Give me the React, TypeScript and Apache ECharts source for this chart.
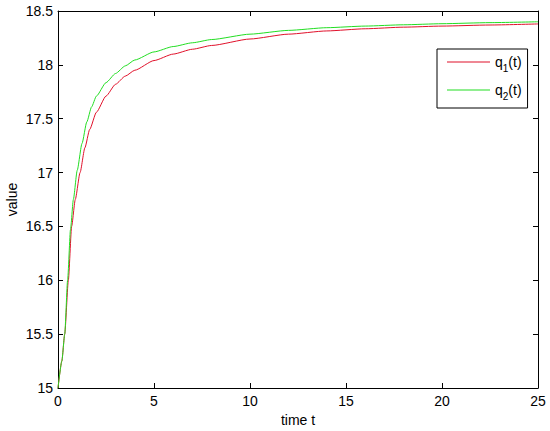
import React, { useEffect, useRef } from "react";
import * as echarts from "echarts";

// q1(t) (red)
const q1Time = [0, 0.2, 0.35, 0.54, 0.71, 0.9, 1.15, 1.4, 1.65, 2.0, 2.5, 3.0, 3.5, 4.0, 5.0, 6.0, 7.0, 8.0, 10.0, 12.0, 14.0, 16.0, 18.0, 20.0, 22.5, 25];
const q1Values = [15.0, 15.25, 15.5, 16.0, 16.5, 16.75, 17.0, 17.23, 17.4, 17.56, 17.71, 17.82, 17.895, 17.95, 18.04, 18.1, 18.145, 18.18, 18.24, 18.285, 18.315, 18.335, 18.35, 18.36, 18.37, 18.38];

// q2(t) (green)
const q2Time = [0, 0.2, 0.35, 0.5, 0.65, 0.8, 1.0, 1.25, 1.5, 1.75, 2.0, 2.5, 3.0, 3.5, 4.0, 5.0, 6.0, 7.0, 8.0, 10.0, 12.0, 14.0, 16.0, 18.0, 20.0, 22.5, 25];
const q2Values = [15.0, 15.25, 15.5, 16.0, 16.47, 16.75, 17.02, 17.27, 17.47, 17.61, 17.71, 17.835, 17.92, 17.99, 18.045, 18.12, 18.17, 18.205, 18.235, 18.285, 18.32, 18.345, 18.36, 18.372, 18.382, 18.392, 18.4];

const seriesNames = ["q1(t)", "q2(t)"];
const xTicks = { min: 0, max: 25, interval: 5 };
const yTicks = { min: 15, max: 18.5, interval: 0.5 };

const FONT = "'Liberation Sans', Arial, sans-serif";

export default function App() {
  const ref = useRef<HTMLDivElement>(null);
  useEffect(() => {
    document.body.style.margin = "0";
    if (!ref.current) return;
    const chart = echarts.init(ref.current, null, { renderer: "svg" });
    const pair = (t: number[], v: number[]) => t.map((x, i) => [x, v[i]]);
    const axisLine = { show: true, onZero: false, lineStyle: { color: "#000", width: 1 } };
    const tick = { show: true, inside: true, length: 5, lineStyle: { color: "#000" } };
    const label = { color: "#000", fontSize: 14, fontFamily: FONT };
    chart.setOption({
      animation: false,
      backgroundColor: "#fff",
      grid: { left: 58, right: 12, top: 11, bottom: 43, containLabel: false, outerBoundsMode: "none" },
      legend: {
        data: seriesNames,
        orient: "vertical",
        left: 437,
        top: 49,
        backgroundColor: "#fff",
        borderColor: "#000",
        borderWidth: 1,
        borderRadius: 0,
        padding: [6, 6, 7, 10],
        itemWidth: 43,
        itemHeight: 14,
        itemGap: 10,
        icon: "path://M0,0H43V1H0Z",
        textStyle: {
          color: "#000",
          fontFamily: FONT,
          rich: {
            a: { fontSize: 14, fontFamily: FONT, color: "#000", lineHeight: 22 },
            s: { fontSize: 10, fontFamily: FONT, color: "#000", lineHeight: 10, verticalAlign: "bottom" },
          },
        },
        formatter: (name: string) => {
          const m = name.match(/^q(\d)\(t\)$/);
          return m ? `{a|q}{s|${m[1]}}{a|(t)}` : name;
        },
      },
      xAxis: [
        {
          type: "value",
          position: "bottom",
          ...xTicks,
          axisLine,
          axisTick: tick,
          axisLabel: { ...label, margin: 6 },
          splitLine: { show: false },
          name: "time t",
          nameLocation: "middle",
          nameGap: 25,
          nameMoveOverlap: false,
          nameTextStyle: { color: "#000", fontSize: 14, fontFamily: FONT },
        },
        {
          type: "value",
          position: "top",
          ...xTicks,
          axisLine,
          axisTick: tick,
          axisLabel: { show: false },
          splitLine: { show: false },
        },
      ],
      yAxis: [
        {
          type: "value",
          position: "left",
          ...yTicks,
          axisLine,
          axisTick: tick,
          axisLabel: { ...label, margin: 5 },
          splitLine: { show: false },
          name: "value",
          nameLocation: "middle",
          nameGap: 39,
          nameMoveOverlap: false,
          nameTextStyle: { color: "#000", fontSize: 14, fontFamily: FONT },
        },
        {
          type: "value",
          position: "right",
          ...yTicks,
          axisLine,
          axisTick: tick,
          axisLabel: { show: false },
          splitLine: { show: false },
        },
      ],
      series: [
        {
          name: seriesNames[0],
          type: "line",
          data: pair(q1Time, q1Values),
          symbol: "none",
          smooth: 0.2,
          smoothMonotone: "x",
          lineStyle: { color: "#e0102a", width: 1 },
          itemStyle: { color: "#e0102a" },
          z: 3,
        },
        {
          name: seriesNames[1],
          type: "line",
          data: pair(q2Time, q2Values),
          symbol: "none",
          smooth: 0.2,
          smoothMonotone: "x",
          lineStyle: { color: "#22dd22", width: 1 },
          itemStyle: { color: "#22dd22" },
          z: 4,
        },
      ],
    });
    return () => chart.dispose();
  }, []);
  return <div ref={ref} style={{ width: 550, height: 431 }} />;
}
